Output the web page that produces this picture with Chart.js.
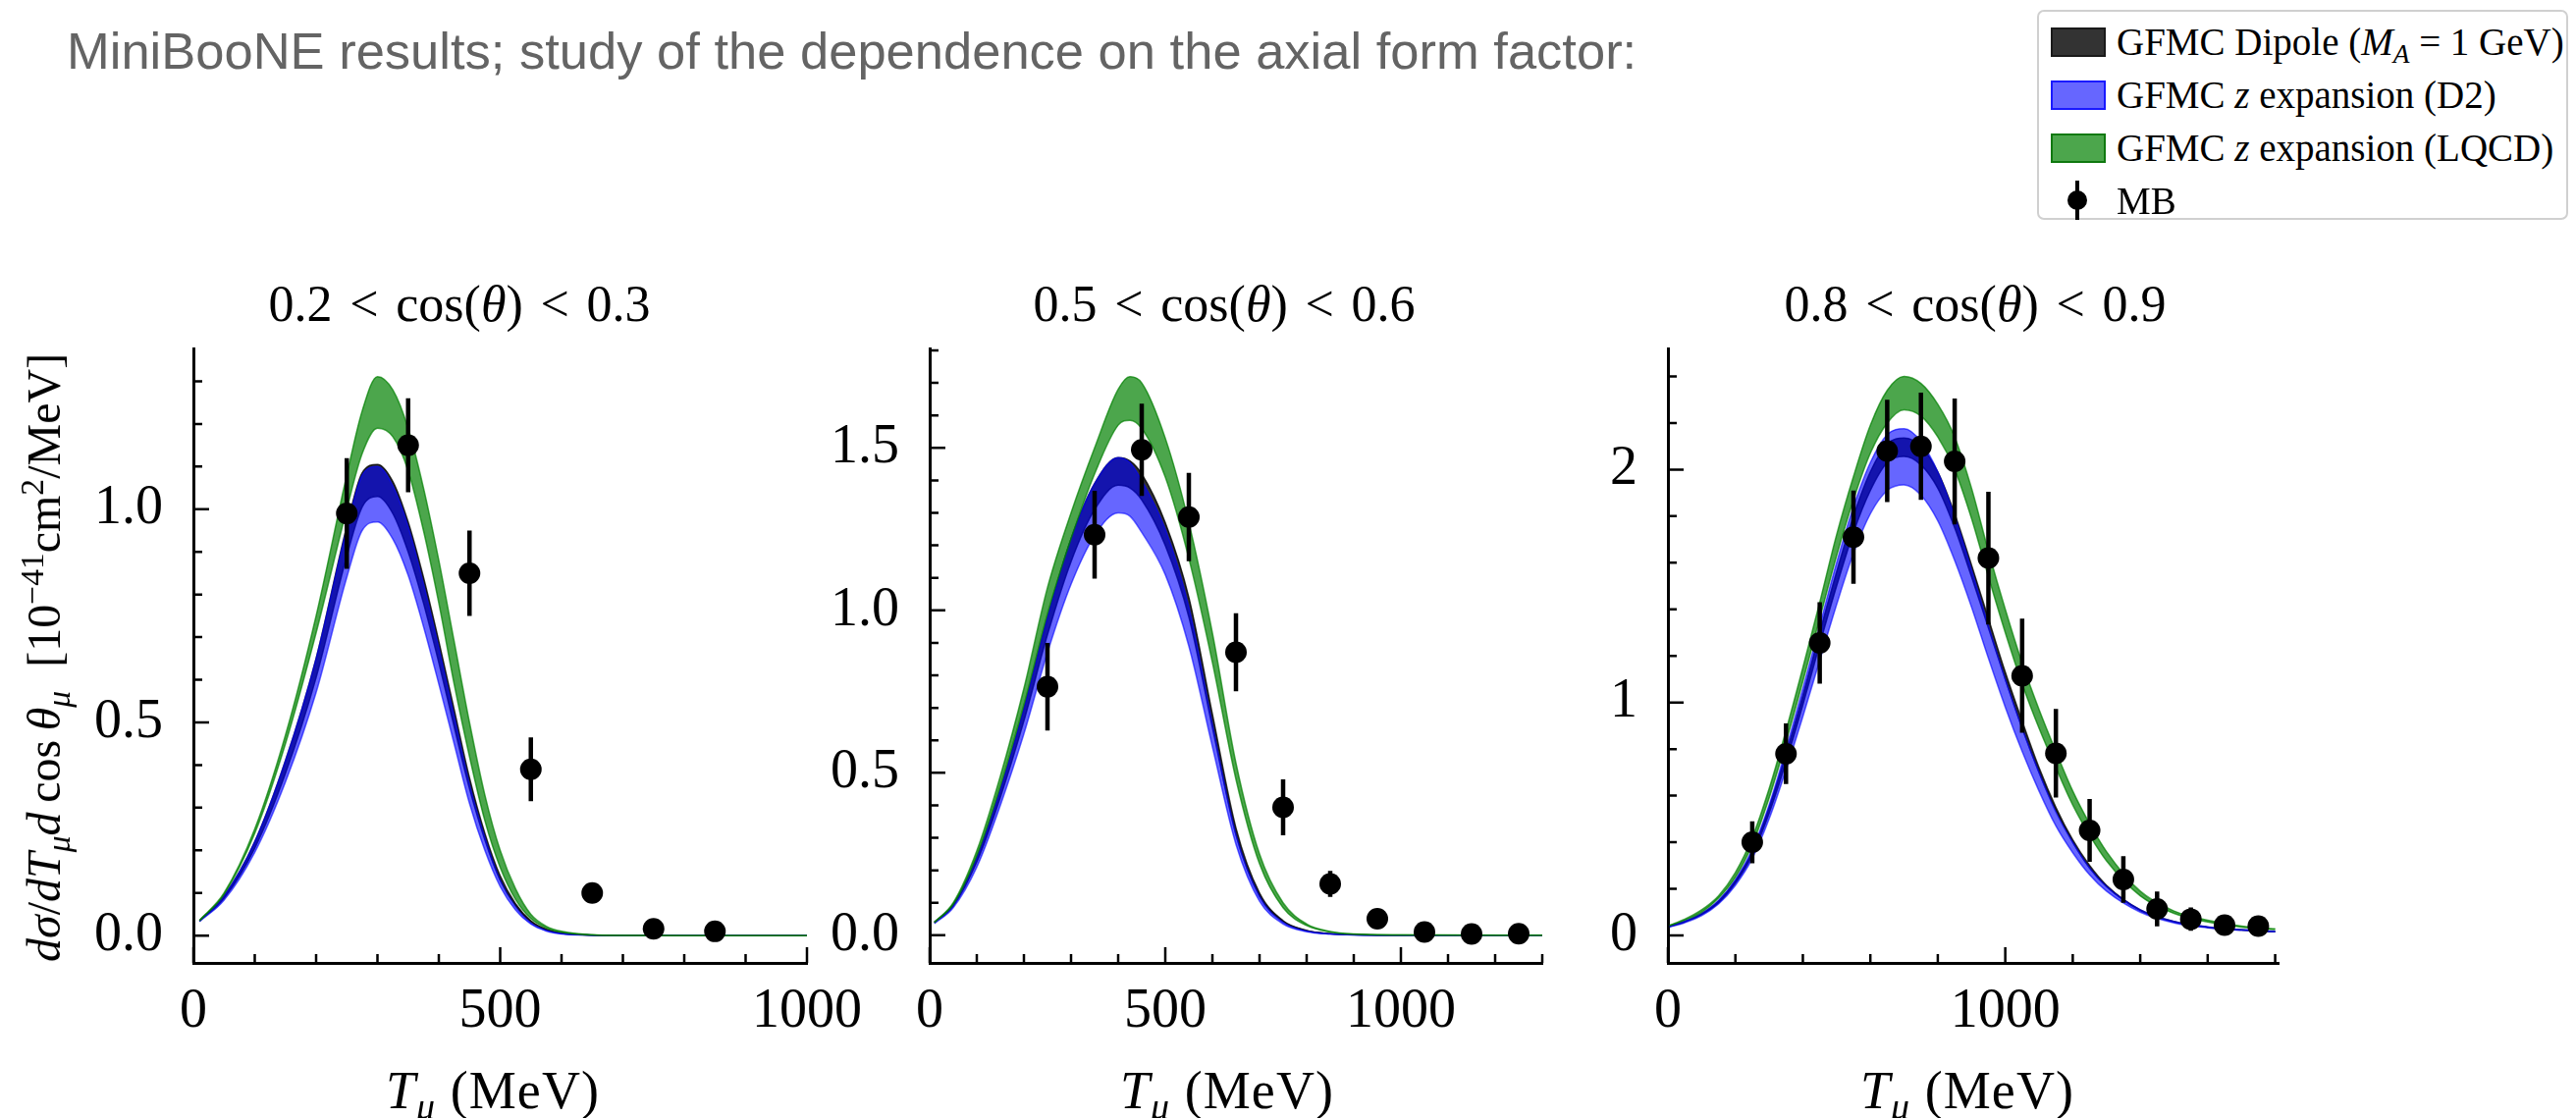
<!DOCTYPE html>
<html>
<head>
<meta charset="utf-8">
<script src="https://cdn.jsdelivr.net/npm/chart.js@4.4.1/dist/chart.umd.min.js"></script>
<style>
html, body { margin: 0; padding: 0; background: #fff; }
body { width: 2624px; height: 1139px; position: relative; overflow: hidden; font-family: "Liberation Serif", serif; color: #000; }
canvas { position: absolute; left: 0; top: 0; }
.t { position: absolute; white-space: nowrap; line-height: 1; transform: translate(-50%, -50%); font-size: 54px; letter-spacing: 0.02em; }
.ttl { font-size: 52px; letter-spacing: 0; }
.rel { margin: 0 0.34em; }
.sb { font-size: 0.7em; position: relative; top: 0.3em; }
.sp { font-size: 0.7em; position: relative; top: -0.5em; }
#slide { position: absolute; left: 68px; top: 26px; font: 52.5px "Liberation Sans", Arial, sans-serif; line-height: 52px; color: #646464; white-space: nowrap; }
#ylab { position: absolute; left: 45px; top: 670px; transform: translate(-50%, -50%) rotate(-90deg); white-space: nowrap; line-height: 1; font-size: 48px; }
#legend { position: absolute; left: 2075px; top: 10px; width: 537px; height: 210px; border: 2px solid #d0d0d0; border-radius: 7px; background: #fff; }
.lrow { position: absolute; left: 0; height: 0; }
.patch { position: absolute; left: 12px; width: 52px; height: 26px; top: -14px; border: 2px solid; }
.ltxt { position: absolute; left: 79px; top: 0; transform: translateY(-50%); white-space: nowrap; font-size: 39px; line-height: 1; }
</style>
</head>
<body>
<div id="slide">MiniBooNE results; study of the dependence on the axial form factor:</div>

<canvas id="c1" width="2624" height="1139"></canvas>
<canvas id="c2" width="2624" height="1139"></canvas>
<canvas id="c3" width="2624" height="1139"></canvas>

<div class="t ttl" style="left:468px;top:310px">0.2<span class="rel">&lt;</span>cos(<i>θ</i>)<span class="rel">&lt;</span>0.3</div>
<div class="t ttl" style="left:1247px;top:310px">0.5<span class="rel">&lt;</span>cos(<i>θ</i>)<span class="rel">&lt;</span>0.6</div>
<div class="t ttl" style="left:2012px;top:310px">0.8<span class="rel">&lt;</span>cos(<i>θ</i>)<span class="rel">&lt;</span>0.9</div>

<div class="t" style="left:502px;top:1111px"><i>T</i><span class="sb"><i>μ</i></span> (MeV)</div>
<div class="t" style="left:1250px;top:1111px"><i>T</i><span class="sb"><i>μ</i></span> (MeV)</div>
<div class="t" style="left:2004px;top:1111px"><i>T</i><span class="sb"><i>μ</i></span> (MeV)</div>

<div id="ylab"><i>dσ</i>/<i>dT</i><span class="sb"><i>μ</i></span><i>d</i>&thinsp;cos&thinsp;<i>θ</i><span class="sb"><i>μ</i></span>&ensp;[10<span class="sp">−41</span>cm<span class="sp">2</span>/MeV]</div>

<div id="legend">
  <div class="lrow" style="top:30px"><div class="patch" style="background:rgba(0,0,0,0.8);border-color:#1a1a1a"></div><div class="ltxt">GFMC Dipole (<i>M</i><span class="sb"><i>A</i></span> = 1 GeV)</div></div>
  <div class="lrow" style="top:84px"><div class="patch" style="background:rgba(0,0,255,0.6);border-color:rgba(0,0,255,0.75)"></div><div class="ltxt">GFMC <i>z</i> expansion (D2)</div></div>
  <div class="lrow" style="top:138px"><div class="patch" style="background:rgba(0,128,0,0.7);border-color:rgba(0,110,0,0.8)"></div><div class="ltxt">GFMC <i>z</i> expansion (LQCD)</div></div>
  <div class="lrow" style="top:192px">
    <div style="position:absolute;left:37px;top:-20px;width:4px;height:40px;background:#000"></div>
    <div style="position:absolute;left:29px;top:-10px;width:20px;height:20px;border-radius:50%;background:#000"></div>
    <div class="ltxt">MB</div>
  </div>
</div>

<script>
// ---- 0.2 < cos(theta) < 0.3 ----
const p1T      = [10, 50, 100, 150, 200, 250, 275, 300, 325, 350, 375, 400, 425, 450, 475, 500, 525, 550, 575, 600, 650, 700, 800, 1000];
const p1LqcdHi = [0.036, 0.10, 0.25, 0.47, 0.75, 1.08, 1.23, 1.311, 1.28, 1.19, 1.05, 0.88, 0.69, 0.50, 0.33, 0.20, 0.11, 0.05, 0.022, 0.01, 0.002, 0.0005, 0, 0];
const p1LqcdLo = [0.035, 0.097, 0.24, 0.45, 0.71, 1.00, 1.13, 1.19, 1.17, 1.09, 0.95, 0.78, 0.59, 0.42, 0.27, 0.16, 0.085, 0.04, 0.018, 0.008, 0.0015, 0.0003, 0, 0];
const p1D2Hi   = [0.035, 0.093, 0.22, 0.41, 0.65, 0.955, 1.08, 1.10, 1.055, 0.96, 0.825, 0.675, 0.515, 0.355, 0.23, 0.13, 0.068, 0.03, 0.012, 0.005, 0.001, 0, 0, 0];
const p1D2Lo   = [0.033, 0.083, 0.195, 0.36, 0.57, 0.84, 0.95, 0.97, 0.93, 0.845, 0.725, 0.59, 0.45, 0.31, 0.20, 0.115, 0.06, 0.027, 0.011, 0.004, 0.001, 0, 0, 0];
const p1DipHi  = [0.035, 0.093, 0.22, 0.41, 0.65, 0.96, 1.085, 1.105, 1.065, 0.97, 0.84, 0.69, 0.53, 0.37, 0.24, 0.14, 0.075, 0.035, 0.015, 0.006, 0.001, 0, 0, 0];
const p1DipLo  = [0.034, 0.088, 0.205, 0.38, 0.605, 0.89, 1.005, 1.03, 0.99, 0.90, 0.78, 0.64, 0.49, 0.345, 0.225, 0.13, 0.07, 0.032, 0.014, 0.005, 0.001, 0, 0, 0];
const p1MbT    = [250, 350, 450, 550, 650, 750, 850];
const p1MbY    = [0.99, 1.15, 0.85, 0.39, 0.10, 0.016, 0.010];
const p1MbErr  = [0.13, 0.11, 0.10, 0.075, 0.02, 0.008, 0.006];
const p1XTicks = [0, 100, 200, 300, 400, 500, 600, 700, 800, 900, 1000];
const p1YTicks = [0, 0.1, 0.2, 0.3, 0.4, 0.5, 0.6, 0.7, 0.8, 0.9, 1.0, 1.1, 1.2, 1.3];
const p1XLabels = [0, 500, 1000];
const p1YLabels = ['0.0', '0.5', '1.0'];

// ---- 0.5 < cos(theta) < 0.6 ----
const p2T      = [10, 50, 100, 150, 200, 250, 300, 350, 400, 425, 450, 500, 550, 600, 650, 700, 750, 800, 850, 900, 1000, 1300];
const p2LqcdHi = [0.04, 0.10, 0.26, 0.49, 0.76, 1.07, 1.30, 1.50, 1.68, 1.719, 1.70, 1.53, 1.27, 0.93, 0.53, 0.25, 0.10, 0.035, 0.012, 0.004, 0.001, 0];
const p2LqcdLo = [0.04, 0.095, 0.245, 0.46, 0.71, 0.99, 1.22, 1.42, 1.57, 1.585, 1.56, 1.41, 1.16, 0.84, 0.48, 0.22, 0.085, 0.03, 0.01, 0.003, 0.001, 0];
const p2D2Hi   = [0.04, 0.095, 0.24, 0.45, 0.70, 0.98, 1.22, 1.39, 1.47, 1.455, 1.40, 1.25, 1.01, 0.65, 0.31, 0.12, 0.04, 0.013, 0.004, 0.001, 0, 0];
const p2D2Lo   = [0.036, 0.085, 0.21, 0.40, 0.62, 0.87, 1.08, 1.23, 1.30, 1.29, 1.24, 1.11, 0.89, 0.58, 0.28, 0.105, 0.035, 0.011, 0.004, 0.001, 0, 0];
const p2DipHi  = [0.04, 0.095, 0.24, 0.45, 0.70, 0.98, 1.22, 1.39, 1.47, 1.46, 1.42, 1.27, 1.04, 0.68, 0.33, 0.13, 0.045, 0.015, 0.005, 0.002, 0, 0];
const p2DipLo  = [0.038, 0.09, 0.226, 0.425, 0.66, 0.925, 1.15, 1.31, 1.385, 1.377, 1.34, 1.20, 0.98, 0.64, 0.31, 0.12, 0.042, 0.014, 0.005, 0.002, 0, 0];
const p2MbT    = [250, 350, 450, 550, 650, 750, 850, 950, 1050, 1150, 1250];
const p2MbY    = [0.765, 1.233, 1.494, 1.287, 0.871, 0.394, 0.158, 0.051, 0.010, 0.004, 0.005];
const p2MbErr  = [0.135, 0.135, 0.142, 0.136, 0.12, 0.086, 0.04, 0.012, 0.005, 0.003, 0.003];
const p2XTicks = [0, 100, 200, 300, 400, 500, 600, 700, 800, 900, 1000, 1100, 1200, 1300];
const p2YTicks = [0, 0.1, 0.2, 0.3, 0.4, 0.5, 0.6, 0.7, 0.8, 0.9, 1.0, 1.1, 1.2, 1.3, 1.4, 1.5, 1.6, 1.7, 1.8];
const p2XLabels = [0, 500, 1000];
const p2YLabels = ['0.0', '0.5', '1.0', '1.5'];

// ---- 0.8 < cos(theta) < 0.9 ----
const p3T      = [5, 50, 100, 150, 200, 250, 300, 350, 400, 450, 500, 550, 600, 650, 700, 750, 800, 850, 900, 950, 1000, 1050, 1100, 1150, 1200, 1250, 1300, 1400, 1500, 1600, 1700, 1800];
const p3LqcdHi = [0.044, 0.07, 0.11, 0.17, 0.27, 0.42, 0.63, 0.88, 1.15, 1.43, 1.72, 1.97, 2.19, 2.34, 2.40, 2.37, 2.28, 2.14, 1.92, 1.65, 1.40, 1.17, 0.97, 0.79, 0.62, 0.48, 0.36, 0.19, 0.105, 0.065, 0.04, 0.028];
const p3LqcdLo = [0.042, 0.066, 0.10, 0.16, 0.25, 0.39, 0.59, 0.83, 1.09, 1.36, 1.63, 1.87, 2.07, 2.20, 2.257, 2.23, 2.14, 2.00, 1.79, 1.54, 1.30, 1.08, 0.89, 0.72, 0.56, 0.43, 0.32, 0.17, 0.095, 0.058, 0.036, 0.025];
const p3D2Hi   = [0.04, 0.062, 0.095, 0.15, 0.24, 0.37, 0.56, 0.80, 1.06, 1.33, 1.60, 1.84, 2.03, 2.15, 2.175, 2.12, 1.99, 1.80, 1.57, 1.33, 1.10, 0.89, 0.70, 0.53, 0.40, 0.29, 0.21, 0.11, 0.06, 0.037, 0.025, 0.018];
const p3D2Lo   = [0.036, 0.055, 0.085, 0.135, 0.215, 0.33, 0.50, 0.71, 0.94, 1.18, 1.42, 1.64, 1.81, 1.91, 1.934, 1.89, 1.78, 1.61, 1.41, 1.19, 0.98, 0.79, 0.62, 0.47, 0.355, 0.26, 0.19, 0.10, 0.054, 0.033, 0.022, 0.016];
const p3DipHi  = [0.04, 0.06, 0.093, 0.147, 0.235, 0.36, 0.55, 0.78, 1.03, 1.30, 1.56, 1.80, 1.99, 2.11, 2.135, 2.10, 1.99, 1.81, 1.59, 1.36, 1.13, 0.92, 0.72, 0.55, 0.41, 0.30, 0.215, 0.11, 0.06, 0.036, 0.024, 0.017];
const p3DipLo  = [0.038, 0.058, 0.09, 0.14, 0.225, 0.345, 0.525, 0.745, 0.99, 1.25, 1.50, 1.73, 1.91, 2.03, 2.056, 2.02, 1.92, 1.75, 1.54, 1.32, 1.10, 0.89, 0.70, 0.535, 0.40, 0.29, 0.21, 0.107, 0.058, 0.035, 0.023, 0.016];
const p3MbT    = [250, 350, 450, 550, 650, 750, 850, 950, 1050, 1150, 1250, 1350, 1450, 1550, 1650, 1750];
const p3MbY    = [0.40, 0.78, 1.256, 1.71, 2.08, 2.10, 2.035, 1.62, 1.115, 0.782, 0.451, 0.24, 0.114, 0.07, 0.044, 0.04];
const p3MbErr  = [0.09, 0.13, 0.175, 0.2, 0.22, 0.23, 0.27, 0.285, 0.245, 0.19, 0.135, 0.1, 0.075, 0.05, 0.03, 0.02];
const p3XTicks = [0, 200, 400, 600, 800, 1000, 1200, 1400, 1600, 1800];
const p3YTicks = [0, 0.2, 0.4, 0.6, 0.8, 1.0, 1.2, 1.4, 1.6, 1.8, 2.0, 2.2, 2.4];
const p3XLabels = [0, 1000];
const p3YLabels = ['0', '1', '2'];

const DIP = 'rgba(0,0,0,0.8)';
const D2 = 'rgba(0,0,255,0.6)';
const LQCD = 'rgba(0,128,0,0.7)';
const tickFont = { family: 'Liberation Serif', size: 56 };

function pts(xs, ys) { return xs.map((x, i) => ({ x: x, y: ys[i] })); }
function errSegs(xs, ys, es) {
  const out = [];
  xs.forEach((x, i) => {
    out.push({ x: x, y: ys[i] - es[i] }, { x: x, y: ys[i] + es[i] }, { x: x, y: null });
  });
  return out;
}
function near(v, list) { return list.some(l => Math.abs(Number(l) - v) < 1e-6); }

// inward ticks like the matplotlib style, major longer than minor
const inwardTicks = {
  id: 'inwardTicks',
  afterDatasetsDraw(chart, args, opts) {
    const ctx = chart.ctx, a = chart.chartArea;
    const sx = chart.scales.x, sy = chart.scales.y;
    ctx.save();
    ctx.strokeStyle = '#000';
    ctx.lineWidth = 2.5;
    ctx.beginPath();
    sx.ticks.forEach(t => {
      const px = sx.getPixelForValue(t.value);
      const len = near(t.value, opts.xLabels) ? 16 : 9;
      ctx.moveTo(px, a.bottom); ctx.lineTo(px, a.bottom - len);
    });
    sy.ticks.forEach(t => {
      const py = sy.getPixelForValue(t.value);
      const len = near(t.value, opts.yLabels) ? 16 : 9;
      ctx.moveTo(a.left, py); ctx.lineTo(a.left + len, py);
    });
    ctx.stroke();
    ctx.restore();
  }
};

function band(label, xs, ys, color, fillTo) {
  return {
    label: label, data: pts(xs, ys), borderColor: color, backgroundColor: color,
    borderWidth: 1.5, pointRadius: 0, cubicInterpolationMode: 'monotone',
    fill: fillTo === undefined ? false : fillTo
  };
}

function makePanel(id, p) {
  const datasets = [
    { label: 'MB', data: pts(p.mbT, p.mbY), showLine: false, pointRadius: 11,
      pointBackgroundColor: '#000', pointBorderWidth: 0, borderColor: '#000' },
    { label: 'MB err', data: errSegs(p.mbT, p.mbY, p.mbErr), borderColor: '#000',
      borderWidth: 4.5, pointRadius: 0, spanGaps: false, tension: 0 },
    band('LQCD hi', p.t, p.lqcdHi, LQCD, 3),
    band('LQCD lo', p.t, p.lqcdLo, LQCD),
    band('D2 hi', p.t, p.d2Hi, D2, 5),
    band('D2 lo', p.t, p.d2Lo, D2),
    band('Dipole hi', p.t, p.dipHi, DIP, 7),
    band('Dipole lo', p.t, p.dipLo, DIP)
  ];
  return new Chart(document.getElementById(id), {
    type: 'line',
    data: { datasets: datasets },
    options: {
      responsive: false, animation: false, events: [],
      layout: { padding: { left: p.left - 150, right: 2624 - p.right, top: 355, bottom: 1139 - 981 - 80 } },
      plugins: {
        legend: { display: false }, tooltip: { enabled: false },
        inwardTicks: { xLabels: p.xLabels, yLabels: p.yLabels }
      },
      scales: {
        x: {
          type: 'linear', min: p.xMin, max: p.xMax,
          grid: { display: false, drawTicks: false },
          border: { display: true, color: '#000', width: 3 },
          afterBuildTicks: s => { s.ticks = p.xTicks.map(v => ({ value: v })); },
          ticks: {
            autoSkip: false, maxRotation: 0, minRotation: 0, padding: 17,
            font: tickFont, color: '#000',
            callback: v => near(v, p.xLabels) ? String(Math.round(v)) : ''
          },
          afterFit: s => { s.height = 80; }
        },
        y: {
          type: 'linear', min: p.yMin, max: p.yMax,
          grid: { display: false, drawTicks: false },
          border: { display: true, color: '#000', width: 3 },
          afterBuildTicks: s => { s.ticks = p.yTicks.map(v => ({ value: v })); },
          ticks: {
            autoSkip: false, padding: 31,
            font: tickFont, color: '#000',
            callback: v => {
              const hit = p.yLabels.find(l => Math.abs(Number(l) - v) < 1e-6);
              return hit === undefined ? '' : hit;
            }
          },
          afterFit: s => { s.width = 150; }
        }
      }
    },
    plugins: [inwardTicks]
  });
}

makePanel('c1', { t: p1T, lqcdHi: p1LqcdHi, lqcdLo: p1LqcdLo, d2Hi: p1D2Hi, d2Lo: p1D2Lo, dipHi: p1DipHi, dipLo: p1DipLo,
  mbT: p1MbT, mbY: p1MbY, mbErr: p1MbErr, xTicks: p1XTicks, yTicks: p1YTicks, xLabels: p1XLabels, yLabels: p1YLabels,
  left: 197, right: 822, xMin: 0, xMax: 1000, yMin: -0.064, yMax: 1.377 });

makePanel('c2', { t: p2T, lqcdHi: p2LqcdHi, lqcdLo: p2LqcdLo, d2Hi: p2D2Hi, d2Lo: p2D2Lo, dipHi: p2DipHi, dipLo: p2DipLo,
  mbT: p2MbT, mbY: p2MbY, mbErr: p2MbErr, xTicks: p2XTicks, yTicks: p2YTicks, xLabels: p2XLabels, yLabels: p2YLabels,
  left: 947, right: 1571, xMin: 0, xMax: 1300, yMin: -0.085, yMax: 1.806 });

makePanel('c3', { t: p3T, lqcdHi: p3LqcdHi, lqcdLo: p3LqcdLo, d2Hi: p3D2Hi, d2Lo: p3D2Lo, dipHi: p3DipHi, dipLo: p3DipLo,
  mbT: p3MbT, mbY: p3MbY, mbErr: p3MbErr, xTicks: p3XTicks, yTicks: p3YTicks, xLabels: p3XLabels, yLabels: p3YLabels,
  left: 1699, right: 2321, xMin: 0, xMax: 1810, yMin: -0.118, yMax: 2.52 });
</script>
</body>
</html>
